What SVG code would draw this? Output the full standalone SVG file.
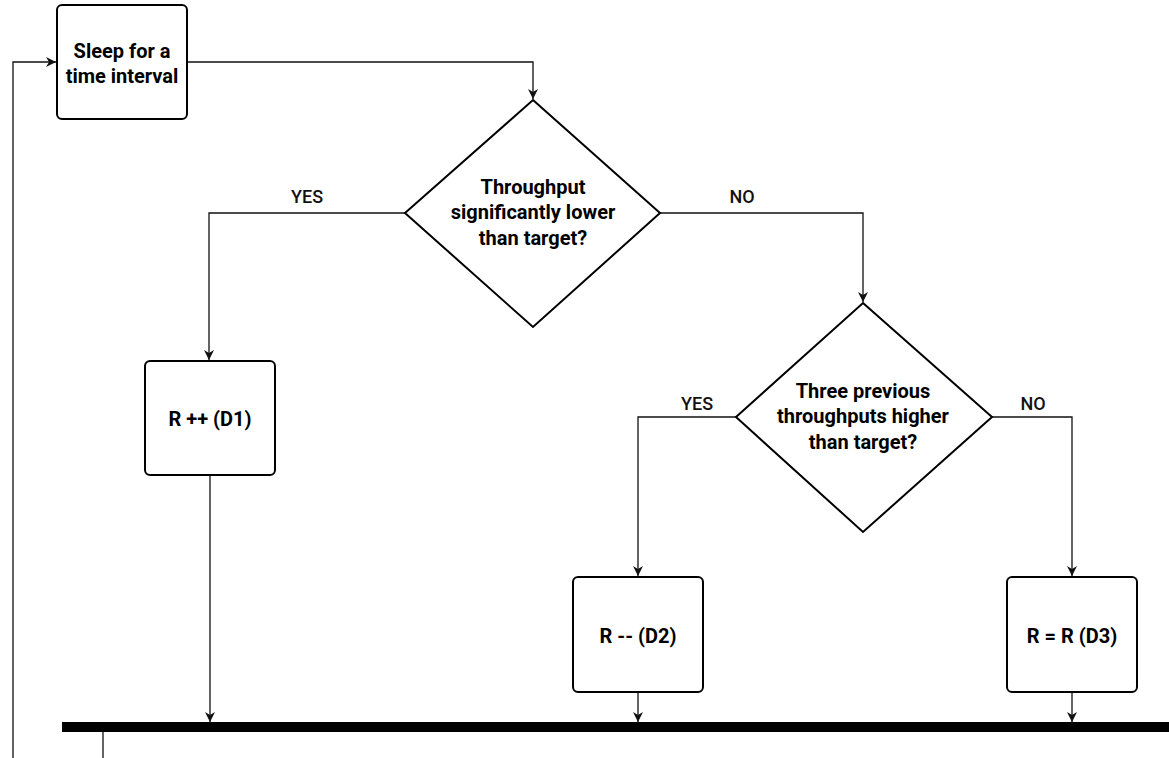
<svg xmlns="http://www.w3.org/2000/svg" width="1169" height="758" viewBox="0 0 1169 758">
<style>
.box{fill:#fff;stroke:#000;stroke-width:2}
.dia{fill:#fff;stroke:#000;stroke-width:2}
.t{font-family:Roboto,"Liberation Sans",sans-serif;font-weight:700;font-size:20px;fill:#000;text-anchor:middle}
.lbl{font-family:Roboto,"Liberation Sans",sans-serif;font-weight:500;font-size:18px;fill:#111;text-anchor:middle}
.c{fill:none;stroke:#111;stroke-width:1.3}
</style>
<defs>
<marker id="arr" viewBox="0 0 10 10" refX="10" refY="5" markerWidth="10" markerHeight="10" markerUnits="userSpaceOnUse" orient="auto">
<path d="M0,0 L10,5 L0,10 L3,5 Z" fill="#111"/>
</marker>
</defs>
<rect id="bar" x="62" y="722" width="1107" height="10" fill="#000"/>
<g id="connectors">
<path class="c" d="M13,758 V62 H56" marker-end="url(#arr)"/>
<path class="c" d="M103,732 V758"/>
<path class="c" d="M187,62 H533 V99" marker-end="url(#arr)"/>
<path class="c" d="M405,213 H209 V360" marker-end="url(#arr)"/>
<path class="c" d="M660,213 H863 V302" marker-end="url(#arr)"/>
<path class="c" d="M736,417 H638 V576" marker-end="url(#arr)"/>
<path class="c" d="M992,417 H1072 V576" marker-end="url(#arr)"/>
<path class="c" d="M210,475 V722" marker-end="url(#arr)"/>
<path class="c" d="M638,692 V722" marker-end="url(#arr)"/>
<path class="c" d="M1072,692 V722" marker-end="url(#arr)"/>
<text class="lbl" x="307" y="203">YES</text>
<text class="lbl" x="742" y="203">NO</text>
<text class="lbl" x="697" y="410">YES</text>
<text class="lbl" x="1033" y="410">NO</text>
</g>
<g id="sleep">
<rect class="box" x="57" y="5" width="130" height="114" rx="5"/>
<text class="t" x="122" y="58">Sleep for a</text>
<text class="t" x="122" y="83">time interval</text>
</g>
<g id="decision1">
<polygon class="dia" points="533,100 660,213 533,327 405,213"/>
<text class="t" x="533" y="194">Throughput</text>
<text class="t" x="533" y="219">significantly lower</text>
<text class="t" x="533" y="245">than target?</text>
</g>
<g id="decision2">
<polygon class="dia" points="863,303 992,417 863,532 736,417"/>
<text class="t" x="863" y="398">Three previous</text>
<text class="t" x="863" y="423">throughputs higher</text>
<text class="t" x="863" y="449">than target?</text>
</g>
<g id="d1">
<rect class="box" x="145" y="361" width="130" height="114" rx="5"/>
<text class="t" x="210" y="426">R ++ (D1)</text>
</g>
<g id="d2">
<rect class="box" x="573" y="577" width="130" height="115" rx="5"/>
<text class="t" x="638" y="643">R -- (D2)</text>
</g>
<g id="d3">
<rect class="box" x="1007" y="577" width="130" height="115" rx="5"/>
<text class="t" x="1072" y="643">R = R (D3)</text>
</g>
</svg>
